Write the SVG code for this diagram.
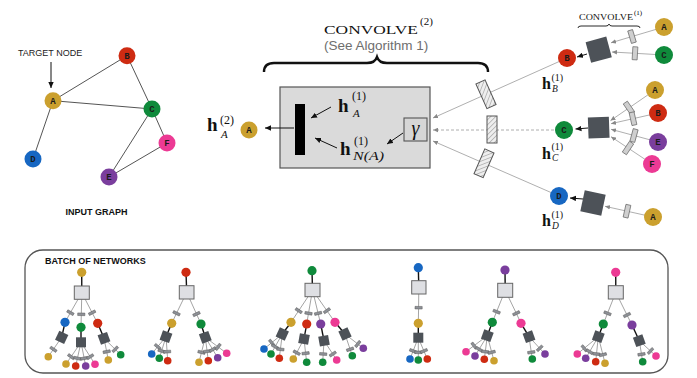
<svg xmlns="http://www.w3.org/2000/svg" width="697" height="378" viewBox="0 0 697 378">
<defs>
<style>
.edge{stroke:#555;stroke-width:1;fill:none}
.lbl{font-family:"Liberation Mono",monospace;font-weight:bold;font-size:9px;text-anchor:middle;fill:#1b1b1b}
.gold{fill:#CBA02E}.red{fill:#CE2B12}.green{fill:#0F8A3B}.blue{fill:#1767C2}.purple{fill:#7A3E9D}.pink{fill:#EC3A94}
.tl{stroke:#9a9a9a;stroke-width:0.9;fill:none}
.bl{stroke:#111;stroke-width:1.4}
.dsq{fill:#4D5258}
.lbox{fill:#DEDFE3;stroke:#666;stroke-width:1}
.gl{stroke:#9a9a9a;stroke-width:0.8;fill:none}
.ar{stroke:#111;stroke-width:1;fill:none}
.sans{font-family:"Liberation Sans",Arial,sans-serif}
.serif{font-family:"Liberation Serif","Times New Roman",serif}
.mh{font-family:"Liberation Serif",serif;font-weight:bold;fill:#111}
.ms{font-family:"Liberation Serif",serif;fill:#111}
.mi{font-family:"Liberation Serif",serif;font-style:italic;fill:#111}
.hr{fill:url(#hatch);stroke:#555;stroke-width:1}
</style>
<pattern id="hatch" width="3.5" height="3.5" patternUnits="userSpaceOnUse" patternTransform="rotate(45)">
<rect width="3.5" height="3.5" fill="#eeeeee"/>
<line x1="0" y1="0" x2="0" y2="3.5" stroke="#8a8a8a" stroke-width="1"/>
</pattern>
<marker id="ab" viewBox="0 0 10 10" refX="10" refY="5" markerWidth="6" markerHeight="6" markerUnits="userSpaceOnUse" orient="auto"><path d="M0,0.5 L10,5 L0,9.5 z" fill="#111"/></marker>
<marker id="ag" viewBox="0 0 10 10" refX="10" refY="5" markerWidth="5" markerHeight="5" markerUnits="userSpaceOnUse" orient="auto"><path d="M0,0.5 L10,5 L0,9.5 z" fill="#888"/></marker>
<marker id="tr" viewBox="-5 -5 10 10" refX="0" refY="0" markerWidth="10" markerHeight="10" markerUnits="userSpaceOnUse" orient="auto"><rect x="-1.3" y="-3.6" width="2.6" height="7.2" fill="#8e9197" stroke="#5a5a5a" stroke-width="0.5"/></marker>
<marker id="nr" viewBox="-8 -8 16 16" refX="0" refY="0" markerWidth="16" markerHeight="16" markerUnits="userSpaceOnUse" orient="auto"><rect x="-2.5" y="-6.5" width="5" height="13" fill="#cfcfcf" stroke="#666" stroke-width="0.7"/></marker>
</defs>
<rect width="697" height="378" fill="#ffffff"/>

<!-- convolve 2 box -->
<g id="convolve2">
<rect x="280" y="87" width="150" height="81" fill="#DADADA" stroke="#555" stroke-width="1.2"/>
<rect x="295" y="104" width="10" height="51" fill="#000"/>
<rect x="404" y="118" width="23" height="23" fill="#D6D6D6" stroke="#555" stroke-width="1.1"/>
<text x="415.5" y="135" class="mi" font-size="20" text-anchor="middle">γ</text>
</g>

<!-- texts -->
<g id="labels">
<text x="18" y="56" class="sans" font-size="9" fill="#222">TARGET NODE</text>
<text x="96.5" y="215" class="sans" font-size="9" font-weight="bold" fill="#111" text-anchor="middle">INPUT GRAPH</text>
<text x="45" y="263.5" class="sans" font-size="9" font-weight="bold" fill="#111">BATCH OF NETWORKS</text>
<text x="324" y="34" class="serif" font-size="13" fill="#111" textLength="94" lengthAdjust="spacingAndGlyphs">CONVOLVE</text>
<text x="420" y="25" class="serif" font-size="11" fill="#111">(2)</text>
<text x="324" y="50" class="sans" font-size="13.5" fill="#6e6e6e">(See Algorithm 1)</text>
<text x="579" y="19.5" class="serif" font-size="8.5" fill="#111" textLength="54" lengthAdjust="spacingAndGlyphs">CONVOLVE</text>
<text x="634" y="15" class="serif" font-size="7">(1)</text>
<path d="M264,72 Q264,63 274,63 L367,63 Q375,63 377,57 Q379,63 387,63 L478,63 Q488,63 488,72" fill="none" stroke="#111" stroke-width="2.4"/>
<path d="M578,28 Q578,26 581,26 L606,26 Q608.5,26 609,24 Q609.5,26 612,26 L637,26 Q640,26 640,28" fill="none" stroke="#111" stroke-width="0.9"/>
<!-- math -->
<text x="207" y="131" class="mh" font-size="19">h</text>
<text x="220" y="124" class="ms" font-size="12">(2)</text>
<text x="221" y="138" class="mi" font-size="11">A</text>
<text x="338" y="112" class="mh" font-size="19">h</text>
<text x="352" y="100" class="ms" font-size="12">(1)</text>
<text x="353" y="117" class="mi" font-size="11">A</text>
<text x="340" y="155" class="mh" font-size="19">h</text>
<text x="354" y="145" class="ms" font-size="12">(1)</text>
<text x="353" y="160" class="mi" font-size="12.5" textLength="31" lengthAdjust="spacingAndGlyphs">N(A)</text>
<text x="542" y="89" class="mh" font-size="16">h</text>
<text x="551.5" y="81" class="ms" font-size="10">(1)</text>
<text x="552" y="92" class="mi" font-size="9.5">B</text>
<text x="542" y="158.5" class="mh" font-size="16">h</text>
<text x="551.5" y="150" class="ms" font-size="10">(1)</text>
<text x="552" y="161" class="mi" font-size="9.5">C</text>
<text x="542" y="226" class="mh" font-size="16">h</text>
<text x="551.5" y="218" class="ms" font-size="10">(1)</text>
<text x="552" y="229" class="mi" font-size="9.5">D</text>
</g>

<!-- connectors -->
<g id="connectors">
<line x1="51" y1="62" x2="51" y2="88" class="ar" marker-end="url(#ab)"/>
<line class="edge" x1="53" y1="100.7" x2="127" y2="55.7"/>
<line class="edge" x1="53" y1="100.7" x2="152" y2="109"/>
<line class="edge" x1="53" y1="100.7" x2="33" y2="159"/>
<line class="edge" x1="127" y1="55.7" x2="152" y2="109"/>
<line class="edge" x1="152" y1="109" x2="167" y2="143"/>
<line class="edge" x1="152" y1="109" x2="109" y2="177"/>
<line class="edge" x1="109" y1="177" x2="167" y2="143"/>

<!-- center -->
<line class="ar" x1="294" y1="128" x2="265" y2="128" marker-end="url(#ab)"/>
<line class="ar" x1="331" y1="107" x2="311" y2="118" marker-end="url(#ab)"/>
<line class="ar" x1="337" y1="148" x2="315" y2="138" marker-end="url(#ab)"/>
<line class="ar" x1="403" y1="133" x2="387" y2="144" marker-end="url(#ab)"/>
<line class="gl" x1="567" y1="58" x2="433" y2="118" marker-end="url(#ag)"/>
<line class="gl" x1="564" y1="130" x2="433" y2="130" stroke-dasharray="3,2" marker-end="url(#ag)"/>
<line class="gl" x1="559" y1="196" x2="433" y2="141" marker-end="url(#ag)"/>
<rect class="hr" x="-5" y="-13.5" width="10" height="27" transform="translate(486,94.3) rotate(-24.1)"/>
<rect class="hr" x="-5" y="-13.5" width="10" height="27" transform="translate(492,129.5)"/>
<rect class="hr" x="-5" y="-13.5" width="10" height="27" transform="translate(484,163.3) rotate(23.6)"/>

<!-- right neighbours -->
<path class="gl" d="M664,27 L632,36.5 L611,42.8" marker-mid="url(#nr)" marker-end="url(#ag)"/>
<path class="gl" d="M664,55 L635,53.3 L612,52" marker-mid="url(#nr)" marker-end="url(#ag)"/>
<path class="gl" d="M655,90 L629,107.9 L610.5,120.6" marker-mid="url(#nr)" marker-end="url(#ag)"/>
<path class="gl" d="M658,113 L633,118.7 L611,123.7" marker-mid="url(#nr)" marker-end="url(#ag)"/>
<path class="gl" d="M658,142 L634,135.5 L611,129.3" marker-mid="url(#nr)" marker-end="url(#ag)"/>
<path class="gl" d="M652,164 L628,148 L611,136.7" marker-mid="url(#nr)" marker-end="url(#ag)"/>
<path class="gl" d="M653,217 L627,211.2 L605,206.3" marker-mid="url(#nr)" marker-end="url(#ag)"/>
<line class="ar" x1="587" y1="54" x2="577" y2="57" marker-end="url(#ab)"/>
<line class="ar" x1="588" y1="128" x2="575.5" y2="129" marker-end="url(#ab)"/>
<line class="ar" x1="583" y1="199" x2="570" y2="198" marker-end="url(#ab)"/>

<!-- tree 1 -->
<line class="bl" x1="81.7" y1="272.3" x2="81.8" y2="292.7"/>
<path class="tl" marker-mid="url(#tr)" d="M81.8,292.7 L70.4,312.7 L65,322.3"/>
<path class="tl" marker-mid="url(#tr)" d="M81.8,292.7 L81.3,314.3 L81,327.3"/>
<path class="tl" marker-mid="url(#tr)" d="M81.8,292.7 L92.1,312.7 L97.7,323.3"/>
<line class="bl" x1="65" y1="322.3" x2="61.7" y2="337.3"/>
<line class="bl" x1="81" y1="327.3" x2="81" y2="342.3"/>
<line class="bl" x1="97.7" y1="323.3" x2="104" y2="338.3"/>
<path class="tl" marker-mid="url(#tr)" d="M61.7,337.3 L53.4,349.3 L48.3,356.7"/>
<path class="tl" marker-mid="url(#tr)" d="M81,342.3 L71.1,356.7 L66,364"/>
<path class="tl" marker-mid="url(#tr)" d="M81,342.3 L77.4,358.3 L75.7,366"/>
<path class="tl" marker-mid="url(#tr)" d="M81,342.3 L84.2,358.3 L85.7,366"/>
<path class="tl" marker-mid="url(#tr)" d="M81,342.3 L90.2,356.7 L95,364.3"/>
<path class="tl" marker-mid="url(#tr)" d="M104,338.3 L106.7,351.7 L108.3,360"/>
<path class="tl" marker-mid="url(#tr)" d="M104,338.3 L115.2,349.3 L120.7,354.7"/>
<!-- tree 2 -->
<line class="bl" x1="186" y1="272.3" x2="186.7" y2="292.3"/>
<path class="tl" marker-mid="url(#tr)" d="M186.7,292.3 L176.5,313.3 L171.7,323.3"/>
<path class="tl" marker-mid="url(#tr)" d="M186.7,292.3 L196.5,314 L201,324"/>
<line class="bl" x1="171.7" y1="323.3" x2="166" y2="336.7"/>
<line class="bl" x1="201" y1="324" x2="205.3" y2="337.3"/>
<path class="tl" marker-mid="url(#tr)" d="M166,336.7 L157.7,346.7 L151.7,354"/>
<path class="tl" marker-mid="url(#tr)" d="M166,336.7 L161.6,351 L159.3,358.3"/>
<path class="tl" marker-mid="url(#tr)" d="M166,336.7 L167.1,351.7 L167.7,360.7"/>
<path class="tl" marker-mid="url(#tr)" d="M205.3,337.3 L201.5,352.3 L199,362.3"/>
<path class="tl" marker-mid="url(#tr)" d="M205.3,337.3 L207.1,351.3 L208.3,360.7"/>
<path class="tl" marker-mid="url(#tr)" d="M205.3,337.3 L212.7,349.5 L217.7,357.7"/>
<path class="tl" marker-mid="url(#tr)" d="M205.3,337.3 L218.1,346.9 L226.7,353.3"/>
<!-- tree 3 -->
<line class="bl" x1="312" y1="270.7" x2="312.5" y2="290"/>
<path class="tl" marker-mid="url(#tr)" d="M312.5,290 L298.7,310.7 L291,322.3"/>
<path class="tl" marker-mid="url(#tr)" d="M312.5,290 L308.5,313.3 L306.7,324"/>
<path class="tl" marker-mid="url(#tr)" d="M312.5,290 L318.1,313.3 L320.7,324"/>
<path class="tl" marker-mid="url(#tr)" d="M312.5,290 L326.9,310.7 L335,322.3"/>
<line class="bl" x1="291" y1="322.3" x2="282.3" y2="334"/>
<line class="bl" x1="306.7" y1="324" x2="304" y2="339"/>
<line class="bl" x1="320.7" y1="324" x2="324" y2="340.7"/>
<line class="bl" x1="335" y1="322.3" x2="345" y2="334"/>
<path class="tl" marker-mid="url(#tr)" d="M282.3,334 L271.7,342.7 L264,349"/>
<path class="tl" marker-mid="url(#tr)" d="M282.3,334 L275.1,346.7 L271,354"/>
<path class="tl" marker-mid="url(#tr)" d="M282.3,334 L280.4,349.3 L279.3,358.3"/>
<path class="tl" marker-mid="url(#tr)" d="M304,339 L296.7,352.7 L293.3,359"/>
<path class="tl" marker-mid="url(#tr)" d="M304,339 L305.6,353.3 L306.7,362.3"/>
<path class="tl" marker-mid="url(#tr)" d="M324,340.7 L323.2,354 L322.7,362.3"/>
<path class="tl" marker-mid="url(#tr)" d="M324,340.7 L332.8,354 L336.7,360"/>
<path class="tl" marker-mid="url(#tr)" d="M345,334 L350.1,349.3 L352.3,355.7"/>
<path class="tl" marker-mid="url(#tr)" d="M345,334 L357.8,344 L363.3,348.3"/>
<!-- tree 4 -->
<line class="bl" x1="418.3" y1="267.7" x2="418.8" y2="287.3"/>
<path class="tl" marker-mid="url(#tr)" d="M418.8,287.3 L418.6,307.7 L418.3,323.3"/>
<line class="bl" x1="418.3" y1="323.3" x2="418.3" y2="337.7"/>
<path class="tl" marker-mid="url(#tr)" d="M418.3,337.7 L413.1,351 L410,359"/>
<path class="tl" marker-mid="url(#tr)" d="M418.3,337.7 L418.3,352.3 L418.3,360"/>
<path class="tl" marker-mid="url(#tr)" d="M418.3,337.7 L423.9,351 L427.3,359"/>
<!-- tree 5 -->
<line class="bl" x1="505" y1="270" x2="505.2" y2="290.3"/>
<path class="tl" marker-mid="url(#tr)" d="M505.2,290.3 L496.6,311.7 L492.3,322.3"/>
<path class="tl" marker-mid="url(#tr)" d="M505.2,290.3 L516.3,313.3 L521,323.3"/>
<line class="bl" x1="492.3" y1="322.3" x2="487.3" y2="335.7"/>
<line class="bl" x1="521" y1="323.3" x2="529" y2="336.7"/>
<path class="tl" marker-mid="url(#tr)" d="M487.3,335.7 L474,345.7 L466,351.7"/>
<path class="tl" marker-mid="url(#tr)" d="M487.3,335.7 L479.1,349.3 L475,356"/>
<path class="tl" marker-mid="url(#tr)" d="M487.3,335.7 L485.3,351.7 L484.3,359.3"/>
<path class="tl" marker-mid="url(#tr)" d="M487.3,335.7 L491.7,352.3 L494,360.7"/>
<path class="tl" marker-mid="url(#tr)" d="M529,336.7 L531.3,352.3 L532.3,359"/>
<path class="tl" marker-mid="url(#tr)" d="M529,336.7 L539.7,348.3 L545,354"/>
<!-- tree 6 -->
<line class="bl" x1="615.7" y1="272.3" x2="615.8" y2="292.3"/>
<path class="tl" marker-mid="url(#tr)" d="M615.8,292.3 L607.5,313.3 L603.3,324"/>
<path class="tl" marker-mid="url(#tr)" d="M615.8,292.3 L627,315 L632,325"/>
<line class="bl" x1="603.3" y1="324" x2="598.3" y2="336.7"/>
<line class="bl" x1="632" y1="325" x2="639.3" y2="340.7"/>
<path class="tl" marker-mid="url(#tr)" d="M598.3,336.7 L584.2,348.3 L577.3,354"/>
<path class="tl" marker-mid="url(#tr)" d="M598.3,336.7 L589.6,351.7 L585.7,358.3"/>
<path class="tl" marker-mid="url(#tr)" d="M598.3,336.7 L596.5,354 L595.7,361.7"/>
<path class="tl" marker-mid="url(#tr)" d="M598.3,336.7 L602.9,354.7 L605,363.3"/>
<path class="tl" marker-mid="url(#tr)" d="M639.3,340.7 L641.5,354.3 L642.7,361.7"/>
<path class="tl" marker-mid="url(#tr)" d="M639.3,340.7 L650.5,351 L656,356"/>
</g>

<!-- input graph nodes -->
<g id="in-A"><circle cx="53" cy="100.7" r="8.5" class="gold"/><text x="53" y="103.7" class="lbl">A</text></g>
<g id="in-B"><circle cx="127" cy="55.7" r="8.5" class="red"/><text x="127" y="58.7" class="lbl">B</text></g>
<g id="in-C"><circle cx="152" cy="109" r="8.5" class="green"/><text x="152" y="112" class="lbl">C</text></g>
<g id="in-D"><circle cx="33" cy="159" r="8.5" class="blue"/><text x="33" y="162" class="lbl">D</text></g>
<g id="in-E"><circle cx="109" cy="177" r="8.5" class="purple"/><text x="109" y="180" class="lbl">E</text></g>
<g id="in-F"><circle cx="167" cy="143" r="8.5" class="pink"/><text x="167" y="146" class="lbl">F</text></g>

<g id="out-A"><circle cx="249" cy="130" r="8.5" class="gold"/><text x="249" y="132.7" class="lbl" font-size="8">A</text></g>

<!-- right side: B -->
<g id="agg-B"><rect x="-10.7" y="-10.7" width="21.4" height="21.4" class="dsq" transform="translate(598.7,49.7) rotate(-15)"/></g>
<g id="r-B"><circle cx="567" cy="58" r="9" class="red"/><text x="567" y="61" class="lbl">B</text></g>
<g id="r-B-A"><circle cx="664" cy="27" r="9" class="gold"/><text x="664" y="30" class="lbl">A</text></g>
<g id="r-B-C"><circle cx="664" cy="55" r="9" class="green"/><text x="664" y="58" class="lbl">C</text></g>
<!-- C -->
<g id="agg-C"><rect x="-10.5" y="-10.5" width="21" height="21" class="dsq" transform="translate(598.7,127.7) rotate(-2)"/></g>
<g id="r-C"><circle cx="564" cy="130" r="9" class="green"/><text x="564" y="133" class="lbl">C</text></g>
<g id="r-C-A"><circle cx="655" cy="90" r="9" class="gold"/><text x="655" y="93" class="lbl">A</text></g>
<g id="r-C-B"><circle cx="658" cy="113" r="9" class="red"/><text x="658" y="116" class="lbl">B</text></g>
<g id="r-C-E"><circle cx="658" cy="142" r="9" class="purple"/><text x="658" y="145" class="lbl">E</text></g>
<g id="r-C-F"><circle cx="652" cy="164" r="9" class="pink"/><text x="652" y="167" class="lbl">F</text></g>
<!-- D -->
<g id="agg-D"><rect x="-10.7" y="-10.7" width="21.4" height="21.4" class="dsq" transform="translate(593,203) rotate(12)"/></g>
<g id="r-D"><circle cx="559" cy="196" r="9" class="blue"/><text x="559" y="199" class="lbl">D</text></g>
<g id="r-D-A"><circle cx="653" cy="217" r="9" class="gold"/><text x="653" y="220" class="lbl">A</text></g>

<!-- batch -->
<rect id="batch-frame" x="25" y="250" width="643" height="123" rx="18" fill="none" stroke="#555" stroke-width="1.3"/>
<g id="tree-A">
<circle cx="81.7" cy="272.3" r="4.6" class="gold"/>
<rect x="74.3" y="286" width="15" height="13.3" class="lbox"/>
<circle cx="65" cy="322.3" r="4.6" class="blue"/><circle cx="81" cy="327.3" r="4.6" class="green"/><circle cx="97.7" cy="323.3" r="4.6" class="red"/>
<rect x="-5" y="-5" width="10" height="10" class="dsq" transform="translate(61.7,337.3) rotate(25)"/>
<rect x="-5" y="-5" width="10" height="10" class="dsq" transform="translate(81,342.3)"/>
<rect x="-5" y="-5" width="10" height="10" class="dsq" transform="translate(104,338.3) rotate(-20)"/>
<circle cx="48.3" cy="356.7" r="3.8" class="gold"/>
<circle cx="66" cy="364" r="3.8" class="gold"/><circle cx="75.7" cy="366" r="3.8" class="red"/><circle cx="85.7" cy="366" r="3.8" class="purple"/><circle cx="95" cy="364.3" r="3.8" class="pink"/>
<circle cx="108.3" cy="360" r="3.8" class="gold"/><circle cx="120.7" cy="354.7" r="3.8" class="green"/>
</g>
<g id="tree-B">
<circle cx="186" cy="272.3" r="4.6" class="red"/>
<rect x="179.3" y="285.7" width="14.7" height="13.3" class="lbox"/>
<circle cx="171.7" cy="323.3" r="4.6" class="gold"/><circle cx="201" cy="324" r="4.6" class="green"/>
<rect x="-5" y="-5" width="10" height="10" class="dsq" transform="translate(166,336.7) rotate(20)"/>
<rect x="-5" y="-5" width="10" height="10" class="dsq" transform="translate(205.3,337.3) rotate(-20)"/>
<circle cx="151.7" cy="354" r="3.8" class="blue"/><circle cx="159.3" cy="358.3" r="3.8" class="green"/><circle cx="167.7" cy="360.7" r="3.8" class="red"/>
<circle cx="199" cy="362.3" r="3.8" class="gold"/><circle cx="208.3" cy="360.7" r="3.8" class="red"/><circle cx="217.7" cy="357.7" r="3.8" class="purple"/><circle cx="226.7" cy="353.3" r="3.8" class="pink"/>
</g>
<g id="tree-C">
<circle cx="312" cy="270.7" r="4.6" class="green"/>
<rect x="305" y="283.3" width="15" height="13.4" class="lbox"/>
<circle cx="291" cy="322.3" r="4.6" class="gold"/><circle cx="306.7" cy="324" r="4.6" class="red"/><circle cx="320.7" cy="324" r="4.6" class="purple"/><circle cx="335" cy="322.3" r="4.6" class="pink"/>
<rect x="-5" y="-5" width="10" height="10" class="dsq" transform="translate(282.3,334) rotate(25)"/>
<rect x="-5" y="-5" width="10" height="10" class="dsq" transform="translate(304,339) rotate(10)"/>
<rect x="-5" y="-5" width="10" height="10" class="dsq" transform="translate(324,340.7) rotate(-10)"/>
<rect x="-5" y="-5" width="10" height="10" class="dsq" transform="translate(345,334) rotate(-25)"/>
<circle cx="264" cy="349" r="3.8" class="blue"/><circle cx="271" cy="354" r="3.8" class="green"/><circle cx="279.3" cy="358.3" r="3.8" class="red"/>
<circle cx="293.3" cy="359" r="3.8" class="gold"/><circle cx="306.7" cy="362.3" r="3.8" class="green"/>
<circle cx="322.7" cy="362.3" r="3.8" class="green"/><circle cx="336.7" cy="360" r="3.8" class="pink"/>
<circle cx="352.3" cy="355.7" r="3.8" class="green"/><circle cx="363.3" cy="348.3" r="3.8" class="purple"/>
</g>
<g id="tree-D">
<circle cx="418.3" cy="267.7" r="4.6" class="blue"/>
<rect x="411.7" y="280.7" width="14.3" height="13.3" class="lbox"/>
<circle cx="418.3" cy="323.3" r="4.6" class="gold"/>
<rect x="-5" y="-5" width="10" height="10" class="dsq" transform="translate(418.3,337.7)"/>
<circle cx="410" cy="359" r="3.8" class="blue"/><circle cx="418.3" cy="360" r="3.8" class="green"/><circle cx="427.3" cy="359" r="3.8" class="red"/>
</g>
<g id="tree-E">
<circle cx="505" cy="270" r="4.6" class="purple"/>
<rect x="497.7" y="283.3" width="15" height="14" class="lbox"/>
<circle cx="492.3" cy="322.3" r="4.6" class="green"/><circle cx="521" cy="323.3" r="4.6" class="pink"/>
<rect x="-5" y="-5" width="10" height="10" class="dsq" transform="translate(487.3,335.7) rotate(20)"/>
<rect x="-5" y="-5" width="10" height="10" class="dsq" transform="translate(529,336.7) rotate(-20)"/>
<circle cx="466" cy="351.7" r="3.8" class="pink"/><circle cx="475" cy="356" r="3.8" class="purple"/><circle cx="484.3" cy="359.3" r="3.8" class="red"/><circle cx="494" cy="360.7" r="3.8" class="gold"/>
<circle cx="532.3" cy="359" r="3.8" class="green"/><circle cx="545" cy="354" r="3.8" class="purple"/>
</g>
<g id="tree-F">
<circle cx="615.7" cy="272.3" r="4.6" class="pink"/>
<rect x="608.3" y="285.7" width="15" height="13.3" class="lbox"/>
<circle cx="603.3" cy="324" r="4.6" class="green"/><circle cx="632" cy="325" r="4.6" class="purple"/>
<rect x="-5" y="-5" width="10" height="10" class="dsq" transform="translate(598.3,336.7) rotate(20)"/>
<rect x="-5" y="-5" width="10" height="10" class="dsq" transform="translate(639.3,340.7) rotate(-20)"/>
<circle cx="577.3" cy="354" r="3.8" class="pink"/><circle cx="585.7" cy="358.3" r="3.8" class="purple"/><circle cx="595.7" cy="361.7" r="3.8" class="red"/><circle cx="605" cy="363.3" r="3.8" class="gold"/>
<circle cx="642.7" cy="361.7" r="3.8" class="green"/><circle cx="656" cy="356" r="3.8" class="pink"/>
</g>
</svg>
